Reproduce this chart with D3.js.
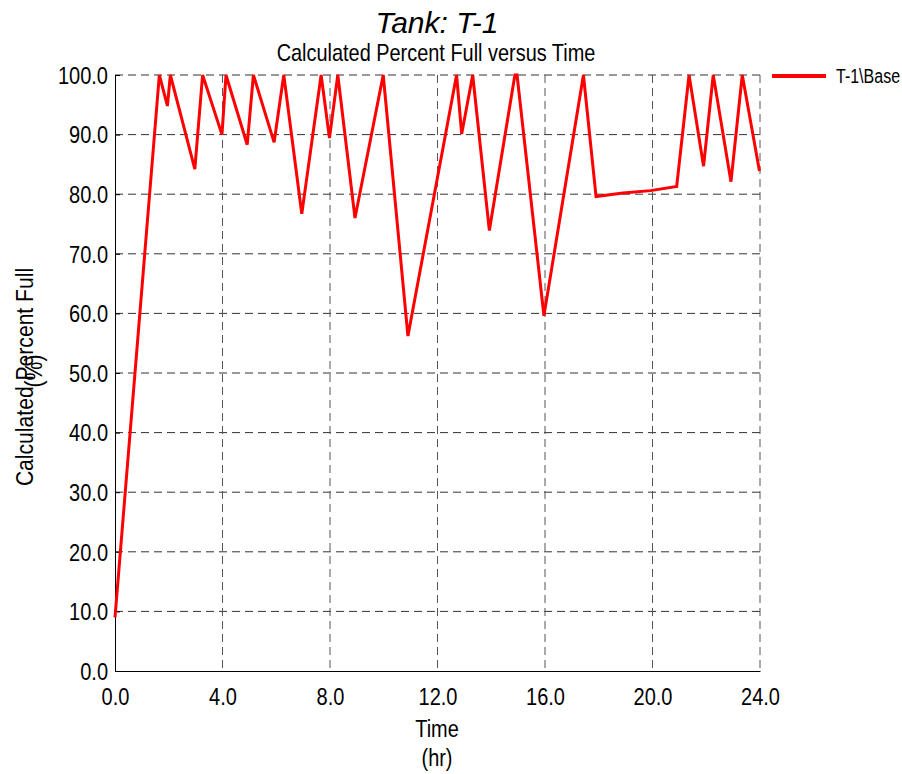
<!DOCTYPE html>
<html><head><meta charset="utf-8">
<script src="https://cdn.jsdelivr.net/npm/d3@7"></script>
<style>
body{margin:0;background:#fff;}
text{font-family:"Liberation Sans",Arial,sans-serif;fill:#000;}
</style></head>
<body><svg id="c" width="902" height="774"></svg>
<script>
const timeHr = [0, 1.65, 1.95, 2.06, 2.97, 3.26, 3.98, 4.13, 4.92, 5.15, 5.92, 6.28, 6.95, 7.67, 7.98, 8.29, 8.93, 9.98, 10.9, 12.71, 12.9, 13.31, 13.93, 14.88, 14.96, 15.96, 17.43, 17.9, 18.9, 19.93, 20.9, 21.36, 21.9, 22.26, 22.92, 23.34, 23.98];
const percentFull = [9.0, 100, 94.8, 100, 84.2, 100, 90.0, 100, 88.3, 100, 88.7, 100, 76.7, 100, 89.4, 100, 76.0, 100, 56.2, 100, 90.1, 100, 73.9, 100, 100, 59.6, 100, 79.6, 80.2, 80.6, 81.3, 100, 84.7, 100, 82.1, 100, 83.9];
const xTicks = [0, 4, 8, 12, 16, 20, 24];
const yTicks = [0, 10, 20, 30, 40, 50, 60, 70, 80, 90, 100];
const seriesName = "T-1\\Base";

const svg = d3.select("#c");
const L = 115, R = 760, T = 75, B = 671;
const x = d3.scaleLinear().domain([0, 24]).range([L, R]);
const y = d3.scaleLinear().domain([0, 100]).range([B, T]);

function txt(px, py, s, size, sx, anchor, rot, italic) {
  const t = svg.append("text")
    .attr("transform", `translate(${px},${py})` + (rot ? ` rotate(${rot})` : "") + ` scale(${sx},1)`)
    .attr("text-anchor", anchor || "middle").attr("font-size", size).text(s);
  if (italic) t.attr("font-style", "italic");
  return t;
}

// grid
const g = svg.append("g");
g.selectAll("line.h").data(yTicks.filter(d => d > 0)).enter().append("line")
  .attr("x1", L).attr("x2", R).attr("y1", d => y(d)).attr("y2", d => y(d))
  .attr("stroke", "#333").attr("stroke-width", 1).attr("stroke-dasharray", "8,5");
g.selectAll("line.v").data(xTicks.filter(d => d > 0)).enter().append("line")
  .attr("x1", d => x(d)).attr("x2", d => x(d)).attr("y1", T).attr("y2", B)
  .attr("stroke", "#555").attr("stroke-width", 1).attr("stroke-dasharray", "8,5");

// axes
const ya = svg.append("g").attr("transform", `translate(${L},0)`)
  .call(d3.axisLeft(y).tickValues(yTicks).tickFormat(d3.format(".1f")).tickSize(-5).tickPadding(8));
const xa = svg.append("g").attr("transform", `translate(0,${B})`)
  .call(d3.axisBottom(x).tickValues(xTicks).tickFormat(d3.format(".1f")).tickSize(0).tickPadding(15));
[ya, xa].forEach(a => {
  a.selectAll("text").attr("font-size", 23).style("font-family", '"Liberation Sans",Arial,sans-serif').attr("fill", "#000");
  a.select(".domain").attr("stroke", "#000");
  a.selectAll(".tick line").attr("stroke", "#000");
});
ya.selectAll("text").attr("x", 0).attr("dy", "0.36em").attr("transform", "translate(-7,0) scale(0.87,1)");
xa.selectAll("text").attr("y", 0).attr("dy", 0).attr("transform", "translate(0,34) scale(0.87,1)");

// line
svg.append("path").datum(timeHr.map((t, i) => [t, percentFull[i]]))
  .attr("d", d3.line().x(d => x(d[0])).y(d => y(d[1])))
  .attr("fill", "none").attr("stroke", "#ff0000").attr("stroke-width", 3).attr("stroke-linejoin", "miter");

// titles
txt(437, 33, "Tank: T-1", 30, 1.0, "middle", 0, true);
txt(436, 61, "Calculated Percent Full versus Time", 24, 0.83);
txt(437, 737, "Time", 24, 0.83);
txt(437, 766, "(hr)", 24, 0.83);
txt(33, 377, "Calculated Percent Full", 24, 0.88, "middle", -90);
txt(42, 371, "(%)", 24, 0.88, "middle", -90);

// legend
svg.append("line").attr("x1", 772).attr("x2", 826).attr("y1", 76).attr("y2", 76)
  .attr("stroke", "#ff0000").attr("stroke-width", 4);
txt(836, 83, seriesName, 20, 0.8, "start");
</script></body></html>
